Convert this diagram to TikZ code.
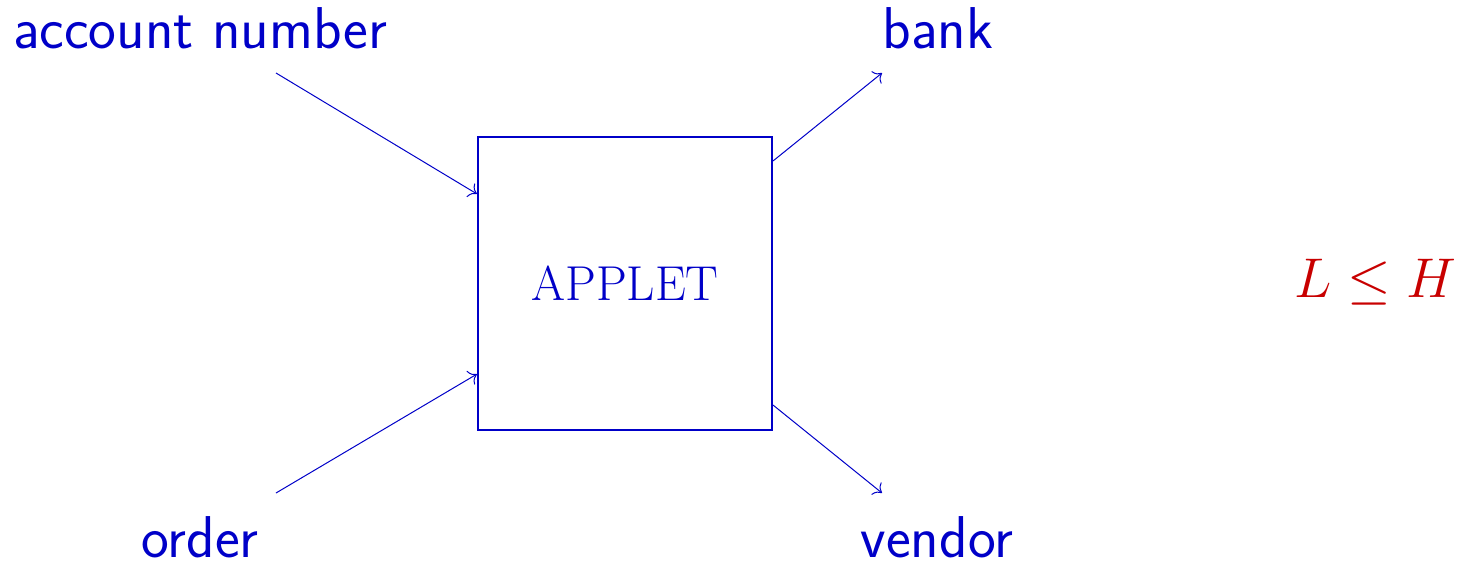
\documentclass[tikz,border=0pt]{standalone}
\usepackage{fix-cm}
\usetikzlibrary{arrows.meta}
\definecolor{dblue}{RGB}{0,0,200}
\definecolor{dred}{RGB}{200,0,0}
\begin{document}
\begin{tikzpicture}[x=0.5pt,y=-0.5pt,
  lbl/.style={anchor=base,inner sep=0pt,text=dblue,font=\sffamily\fontsize{29.5}{34}\selectfont},
  flow/.style={draw=dblue,line width=0.5pt,-{To[scale=1.4]}},
  boxst/.style={draw=dblue,line width=1.1pt,minimum width=147pt,minimum height=146.5pt,inner sep=0pt,text=dblue,font=\fontsize{24.5}{28}\selectfont}]
\useasboundingbox (0,0) rectangle (1461,563);
\node[boxst] (box) at (625,283.5) {APPLET};
\node[lbl] (acc) at (200,48) {account number};
\node[lbl] (bank) at (938,48) {bank};
\node[lbl] (order) at (200,557) {order};
\node[lbl] (vendor) at (937,557) {vendor};
\node[anchor=base,inner sep=0pt,text=dred,font=\fontsize{28}{32}\selectfont] (rel) at (1375,297) {$L \leq H$};
\coordinate (a1) at (276,73);
\coordinate (a2) at (276,493);
\coordinate (b1) at (882,73);
\coordinate (b2) at (882,493);
\draw[flow] (a1) -- ([yshift=-29pt]box.north west);
\draw[flow] (a2) -- ([yshift=28.5pt]box.south west);
\draw[flow] ([yshift=-12.5pt]box.north east) -- (b1);
\draw[flow] ([yshift=13pt]box.south east) -- (b2);
\end{tikzpicture}
\end{document}
